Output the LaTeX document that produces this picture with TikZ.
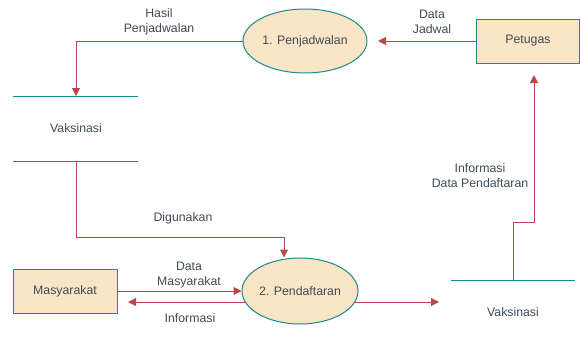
\documentclass[tikz,border=0pt]{standalone}
\usepackage{fontspec}
\setmainfont{Liberation Sans}
\usetikzlibrary{shapes.geometric,arrows.meta}
\definecolor{fillc}{HTML}{FAE5C6}
\definecolor{edgec}{HTML}{1A8A8A}
\definecolor{flowc}{HTML}{B84A4A}
\definecolor{txtc}{HTML}{3E4A54}
\begin{document}
\begin{tikzpicture}[x=1pt,y=-1pt,
  every node/.style={text=txtc,font=\fontsize{12.3}{15}\selectfont},
  proc/.style={ellipse,draw=edgec,fill=fillc,line width=1pt,inner sep=0pt},
  ent/.style={rectangle,draw=edgec,fill=fillc,line width=1pt,inner sep=0pt},
  store/.style={draw=edgec,line width=1pt},
  flow/.style={draw=flowc,line width=1pt,-{Triangle[length=8pt,width=8pt]}},
  lbl/.style={align=center,inner sep=0pt}]
\useasboundingbox (0,0) rectangle (581,340);
% processes
\node[proc,minimum width=124pt,minimum height=64pt] (p1) at (305,41) {1. Penjadwalan};
\node[proc,minimum width=116pt,minimum height=66pt] (p2) at (300,291) {2. Pendaftaran};
% entities
\node[ent,minimum width=103pt,minimum height=44pt] (pet) at (528,41) {Petugas};
\node[ent,minimum width=104pt,minimum height=44pt] (mas) at (65,291) {Masyarakat};
% data stores
\coordinate (s1a) at (13,96); \coordinate (s1b) at (138,96);
\coordinate (s1c) at (13,161); \coordinate (s1d) at (138,161);
\draw[store] (s1a) -- (s1b);
\draw[store] (s1c) -- (s1d);
\node (s1) at (76,128) {Vaksinasi};
\coordinate (s2a) at (451,280); \coordinate (s2b) at (575,280);
\draw[store] (s2a) -- (s2b);
\node (s2) at (513,312) {Vaksinasi};
% flows
\coordinate (pj) at (378,41);
\draw[flow] (pet.west) -- (pj);
\node[lbl] (l1) at (432,22) {Data\\Jadwal};
\coordinate (s1top) at (76,96);
\draw[flow] (p1.west) -| (s1top);
\node[lbl] (l2) at (159,22) {Hasil\\Penjadwalan};
\coordinate (s1bot) at (76,161);
\coordinate (dg) at (284,237);
\draw[flow] (s1bot) |- (dg) -- (p2.north -| dg);
\node[lbl] (l3) at (183,218) {Digunakan};
\draw[flow] (mas.east) -- (p2.west);
\node[lbl] (l4) at (189,275) {Data\\Masyarakat};
\coordinate (infs) at (245,302);
\coordinate (inft) at (128,302);
\draw[flow] (infs) -- (inft);
\node[lbl] (l5) at (190,318) {Informasi};
\coordinate (o2) at (355,302);
\coordinate (o2t) at (439,302);
\draw[flow] (o2) -- (o2t);
\coordinate (s2top) at (513,280);
\coordinate (kink) at (513,222);
\coordinate (kink2) at (534,222);
\coordinate (pett) at (534,75);
\draw[flow] (s2top) -- (kink) -- (kink2) -- (pett);
\node[lbl] (l6) at (480,176) {Informasi\\Data Pendaftaran};
\end{tikzpicture}
\end{document}
